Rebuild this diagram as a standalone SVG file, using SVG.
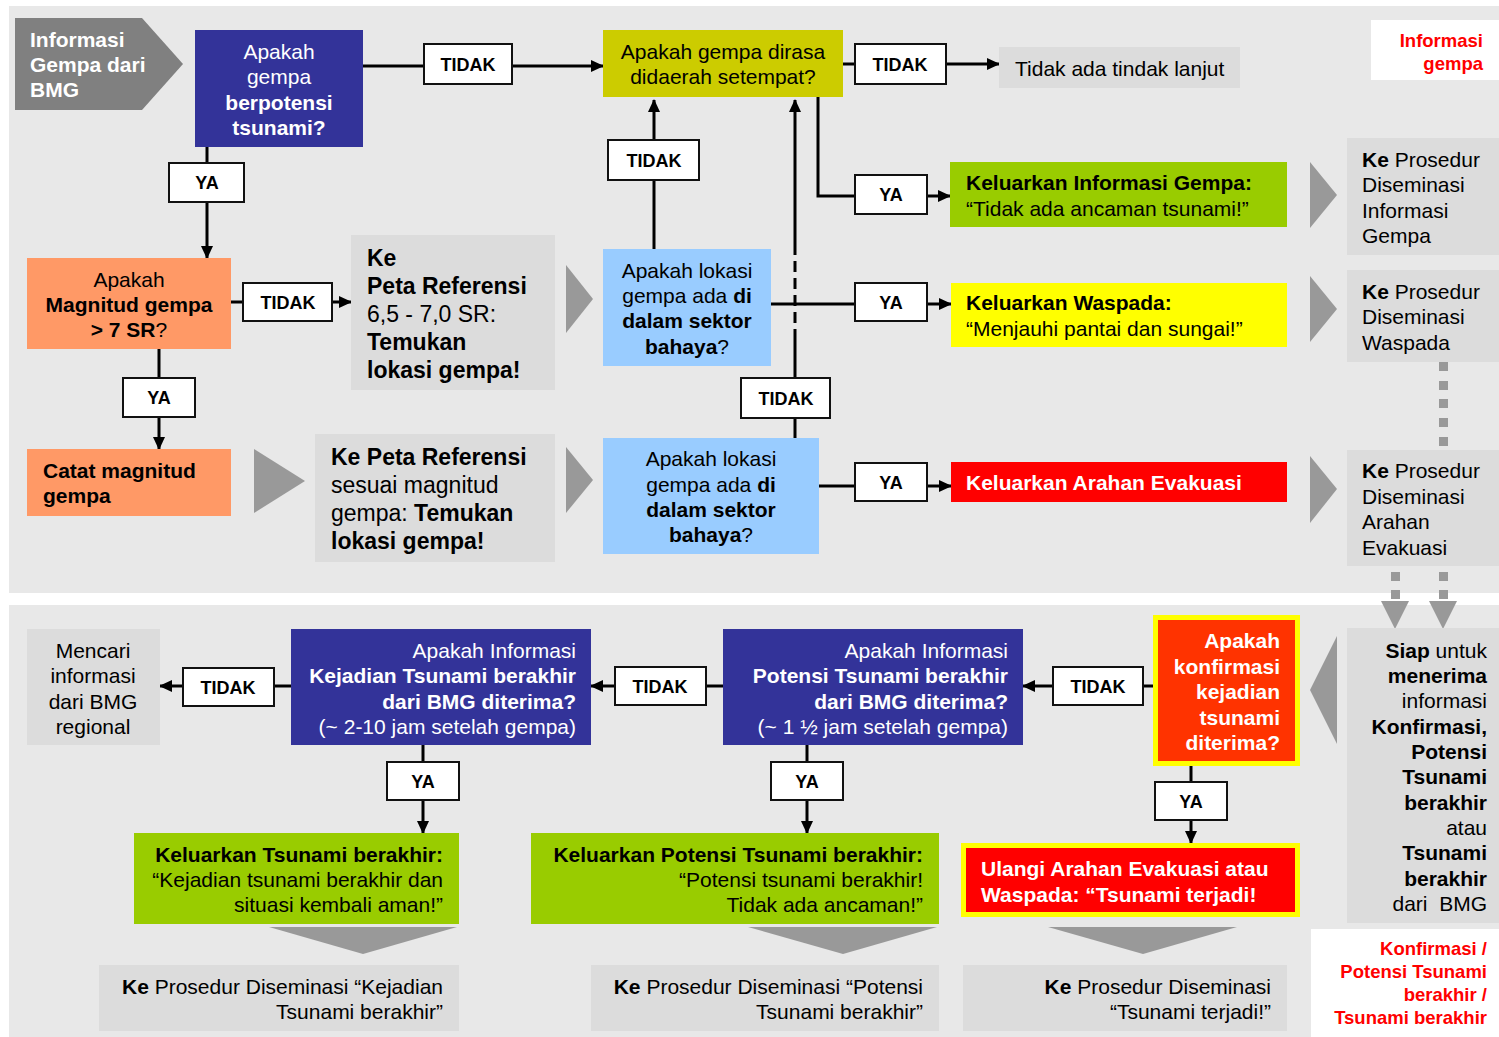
<svg xmlns="http://www.w3.org/2000/svg" width="1499" height="1037" viewBox="0 0 1499 1037">
<defs>
<style>
text{font-family:"Liberation Sans",Arial,sans-serif;font-size:21px;fill:#000}
.b{font-weight:bold}
.w{fill:#fff}
.r{fill:#ff0000;font-weight:bold;font-size:18.5px}
.m{text-anchor:middle}
.e{text-anchor:end}
.big{font-size:23px}
.lbl rect{fill:#fff;stroke:#111;stroke-width:2}
.lbl text{font-size:18px;font-weight:bold;text-anchor:middle}
.gbox{fill:#dcdcdc}
.tri{fill:#999}
.sq{fill:#999}
#connectors line,#connectors polyline{stroke:#000;stroke-width:3;fill:none}
</style>
<marker id="ah" markerUnits="userSpaceOnUse" markerWidth="13" markerHeight="12" viewBox="0 0 13 12" refX="12" refY="6" orient="auto">
<path d="M0,0 L13,6 L0,12 z" fill="#000"/>
</marker>
</defs>
<rect width="1499" height="1037" fill="#fff"/>
<rect x="9" y="6" width="1490" height="587" fill="#e8e8e8"/>
<rect x="9" y="605" width="1490" height="432" fill="#e8e8e8"/>

<g id="decor">
<polygon class="tri" points="566,265 593,299 566,333"/>
<polygon class="tri" points="254,449 305,481 254,513"/>
<polygon class="tri" points="566,447 593,480 566,513"/>
<polygon class="tri" points="1310,162 1337,195 1310,228"/>
<polygon class="tri" points="1310,276 1337,309 1310,342"/>
<polygon class="tri" points="1310,456 1337,489 1310,523"/>
<polygon class="tri" points="1337,636 1310,690 1337,744"/>
<polygon class="tri" points="269,927 457,927 363,954"/>
<polygon class="tri" points="748,927 937,927 843,954"/>
<polygon class="tri" points="1048,927 1237,927 1143,954"/>
<rect class="sq" x="1439" y="362" width="9" height="9"/>
<rect class="sq" x="1439" y="381" width="9" height="9"/>
<rect class="sq" x="1439" y="399" width="9" height="9"/>
<rect class="sq" x="1439" y="418" width="9" height="9"/>
<rect class="sq" x="1439" y="437" width="9" height="9"/>
<rect class="sq" x="1391" y="572" width="9" height="9"/>
<rect class="sq" x="1391" y="590" width="9" height="9"/>
<rect class="sq" x="1439" y="572" width="9" height="9"/>
<rect class="sq" x="1439" y="590" width="9" height="9"/>
<polygon class="tri" points="1381,601 1409,601 1395,629"/>
<polygon class="tri" points="1429,601 1457,601 1443,629"/>
</g>

<g id="connectors">
<line x1="363" y1="66" x2="424" y2="66"/>
<line x1="512" y1="66" x2="603" y2="66" marker-end="url(#ah)"/>
<line x1="843" y1="64" x2="855" y2="64"/>
<line x1="946" y1="64" x2="999" y2="64" marker-end="url(#ah)"/>
<line x1="207" y1="147" x2="207" y2="163"/>
<line x1="207" y1="202" x2="207" y2="258" marker-end="url(#ah)"/>
<line x1="231" y1="302" x2="243" y2="302"/>
<line x1="332" y1="302" x2="351" y2="302" marker-end="url(#ah)"/>
<line x1="159" y1="349" x2="159" y2="378"/>
<line x1="159" y1="417" x2="159" y2="449" marker-end="url(#ah)"/>
<line x1="654" y1="249" x2="654" y2="180"/>
<line x1="654" y1="140" x2="654" y2="100" marker-end="url(#ah)"/>
<polyline points="818,97 818,196 855,196"/>
<line x1="927" y1="196" x2="950" y2="196" marker-end="url(#ah)"/>
<line x1="771" y1="304" x2="855" y2="304"/>
<line x1="927" y1="304" x2="951" y2="304" marker-end="url(#ah)"/>
<line x1="795" y1="438" x2="795" y2="418"/>
<line x1="795" y1="378" x2="795" y2="340"/>
<line x1="795" y1="340" x2="795" y2="247" stroke-dasharray="11,6"/>
<line x1="795" y1="247" x2="795" y2="100" marker-end="url(#ah)"/>
<line x1="819" y1="486" x2="855" y2="486"/>
<line x1="927" y1="486" x2="951" y2="486" marker-end="url(#ah)"/>
<line x1="1153" y1="686" x2="1143" y2="686"/>
<line x1="1053" y1="686" x2="1023" y2="686" marker-end="url(#ah)"/>
<line x1="723" y1="686" x2="706" y2="686"/>
<line x1="615" y1="686" x2="591" y2="686" marker-end="url(#ah)"/>
<line x1="291" y1="686" x2="274" y2="686"/>
<line x1="183" y1="686" x2="160" y2="686" marker-end="url(#ah)"/>
<line x1="423" y1="745" x2="423" y2="762"/>
<line x1="423" y1="800" x2="423" y2="833" marker-end="url(#ah)"/>
<line x1="807" y1="745" x2="807" y2="762"/>
<line x1="807" y1="800" x2="807" y2="833" marker-end="url(#ah)"/>
<line x1="1191" y1="766" x2="1191" y2="782"/>
<line x1="1191" y1="820" x2="1191" y2="843" marker-end="url(#ah)"/>
</g>

<g id="n-info-bmg">
<polygon points="15,18 142,18 183,64 142,110 15,110" fill="#808080"/>
<text class="b w" x="30" y="47">Informasi</text>
<text class="b w" x="30" y="72">Gempa dari</text>
<text class="b w" x="30" y="97">BMG</text>
</g>
<g id="n-potensi">
<rect x="195" y="30" width="168" height="117" fill="#333399"/>
<text class="w m" x="279" y="59">Apakah</text>
<text class="w m" x="279" y="84">gempa</text>
<text class="w m b" x="279" y="110">berpotensi</text>
<text class="w m b" x="279" y="135">tsunami?</text>
</g>
<g id="n-dirasa">
<rect x="603" y="30" width="240" height="67" fill="#cccc00"/>
<text class="m" x="723" y="59">Apakah gempa dirasa</text>
<text class="m" x="723" y="84">didaerah setempat?</text>
</g>
<g id="n-tidak-ada">
<rect class="gbox" x="999" y="47" width="241" height="41"/>
<text x="1015" y="76">Tidak ada tindak lanjut</text>
</g>
<g id="n-legend1">
<rect x="1371" y="20" width="128" height="60" fill="#fff"/>
<text class="r e" x="1483" y="47">Informasi</text>
<text class="r e" x="1483" y="70">gempa</text>
</g>
<g id="n-magnitud">
<rect x="27" y="258" width="204" height="91" fill="#ff9966"/>
<text class="m" x="129" y="287">Apakah</text>
<text class="m b" x="129" y="312">Magnitud gempa</text>
<text class="m" x="129" y="337"><tspan class="b">&gt; 7 SR</tspan>?</text>
</g>
<g id="n-peta1">
<rect class="gbox" x="351" y="235" width="204" height="155"/>
<text class="big b" x="367" y="266">Ke</text>
<text class="big b" x="367" y="294">Peta Referensi</text>
<text class="big" x="367" y="322">6,5 - 7,0 SR:</text>
<text class="big b" x="367" y="350">Temukan</text>
<text class="big b" x="367" y="378">lokasi gempa!</text>
</g>
<g id="n-catat">
<rect x="27" y="449" width="204" height="67" fill="#ff9966"/>
<text class="b" x="43" y="478">Catat magnitud</text>
<text class="b" x="43" y="503">gempa</text>
</g>
<g id="n-peta2">
<rect class="gbox" x="315" y="434" width="240" height="128"/>
<text class="big b" x="331" y="465">Ke Peta Referensi</text>
<text class="big" x="331" y="493">sesuai magnitud</text>
<text class="big" x="331" y="521">gempa: <tspan class="b">Temukan</tspan></text>
<text class="big b" x="331" y="549">lokasi gempa!</text>
</g>
<g id="n-lokasi1">
<rect x="603" y="249" width="168" height="117" fill="#99ccff"/>
<text class="m" x="687" y="278">Apakah lokasi</text>
<text class="m" x="687" y="303">gempa ada <tspan class="b">di</tspan></text>
<text class="m b" x="687" y="328">dalam sektor</text>
<text class="m" x="687" y="354"><tspan class="b">bahaya</tspan>?</text>
</g>
<g id="n-lokasi2">
<rect x="603" y="438" width="216" height="116" fill="#99ccff"/>
<text class="m" x="711" y="466">Apakah lokasi</text>
<text class="m" x="711" y="492">gempa ada <tspan class="b">di</tspan></text>
<text class="m b" x="711" y="517">dalam sektor</text>
<text class="m" x="711" y="542"><tspan class="b">bahaya</tspan>?</text>
</g>
<g id="n-info-gempa">
<rect x="950" y="162" width="337" height="65" fill="#99cc00"/>
<text class="b" x="966" y="190">Keluarkan Informasi Gempa:</text>
<text x="966" y="216">“Tidak ada ancaman tsunami!”</text>
</g>
<g id="n-waspada">
<rect x="951" y="283" width="336" height="64" fill="#ffff00"/>
<text class="b" x="966" y="310">Keluarkan Waspada:</text>
<text x="966" y="336">“Menjauhi pantai dan sungai!”</text>
</g>
<g id="n-evakuasi">
<rect x="951" y="462" width="336" height="40" fill="#ff0000"/>
<text class="b w" x="966" y="490">Keluarkan Arahan Evakuasi</text>
</g>
<g id="n-pros-info">
<rect class="gbox" x="1347" y="138" width="152" height="117"/>
<text x="1362" y="167"><tspan class="b">Ke</tspan> Prosedur</text>
<text x="1362" y="192">Diseminasi</text>
<text x="1362" y="218">Informasi</text>
<text x="1362" y="243">Gempa</text>
</g>
<g id="n-pros-waspada">
<rect class="gbox" x="1347" y="270" width="152" height="92"/>
<text x="1362" y="299"><tspan class="b">Ke</tspan> Prosedur</text>
<text x="1362" y="324">Diseminasi</text>
<text x="1362" y="350">Waspada</text>
</g>
<g id="n-pros-evakuasi">
<rect class="gbox" x="1347" y="450" width="152" height="116"/>
<text x="1362" y="478"><tspan class="b">Ke</tspan> Prosedur</text>
<text x="1362" y="504">Diseminasi</text>
<text x="1362" y="529">Arahan</text>
<text x="1362" y="555">Evakuasi</text>
</g>

<g id="n-siap">
<rect class="gbox" x="1347" y="628" width="152" height="295"/>
<text class="e" x="1487" y="658"><tspan class="b">Siap</tspan> untuk</text>
<text class="e b" x="1487" y="683">menerima</text>
<text class="e" x="1487" y="708">informasi</text>
<text class="e b" x="1487" y="734">Konfirmasi,</text>
<text class="e b" x="1487" y="759">Potensi</text>
<text class="e b" x="1487" y="784">Tsunami</text>
<text class="e b" x="1487" y="810">berakhir</text>
<text class="e" x="1487" y="835">atau</text>
<text class="e b" x="1487" y="860">Tsunami</text>
<text class="e b" x="1487" y="886">berakhir</text>
<text class="e" x="1487" y="911" xml:space="preserve">dari  BMG</text>
</g>
<g id="n-konfirmasi">
<rect x="1155.5" y="617.5" width="142" height="146" fill="#ff3300" stroke="#ffff00" stroke-width="5"/>
<text class="e b w" x="1280" y="648">Apakah</text>
<text class="e b w" x="1280" y="674">konfirmasi</text>
<text class="e b w" x="1280" y="699">kejadian</text>
<text class="e b w" x="1280" y="725">tsunami</text>
<text class="e b w" x="1280" y="750">diterima?</text>
</g>
<g id="n-potensi-berakhir">
<rect x="723" y="629" width="300" height="116" fill="#333399"/>
<text class="e w" x="1008" y="658">Apakah Informasi</text>
<text class="e w b" x="1008" y="683">Potensi Tsunami berakhir</text>
<text class="e w b" x="1008" y="709">dari BMG diterima?</text>
<text class="e w" x="1008" y="734">(~ 1 ½ jam setelah gempa)</text>
</g>
<g id="n-kejadian-berakhir">
<rect x="291" y="629" width="300" height="116" fill="#333399"/>
<text class="e w" x="576" y="658">Apakah Informasi</text>
<text class="e w b" x="576" y="683">Kejadian Tsunami berakhir</text>
<text class="e w b" x="576" y="709">dari BMG diterima?</text>
<text class="e w" x="576" y="734">(~ 2-10 jam setelah gempa)</text>
</g>
<g id="n-mencari">
<rect class="gbox" x="27" y="629" width="133" height="116"/>
<text class="m" x="93" y="658">Mencari</text>
<text class="m" x="93" y="683">informasi</text>
<text class="m" x="93" y="709">dari BMG</text>
<text class="m" x="93" y="734">regional</text>
</g>
<g id="n-out-kejadian">
<rect x="134" y="833" width="325" height="91" fill="#99cc00"/>
<text class="e b" x="443" y="862">Keluarkan Tsunami berakhir:</text>
<text class="e" x="443" y="887">“Kejadian tsunami berakhir dan</text>
<text class="e" x="443" y="912">situasi kembali aman!”</text>
</g>
<g id="n-out-potensi">
<rect x="531" y="833" width="408" height="91" fill="#99cc00"/>
<text class="e b" x="923" y="862">Keluarkan Potensi Tsunami berakhir:</text>
<text class="e" x="923" y="887">“Potensi tsunami berakhir!</text>
<text class="e" x="923" y="912">Tidak ada ancaman!”</text>
</g>
<g id="n-ulangi">
<rect x="963.5" y="845.5" width="334" height="69" fill="#ff0000" stroke="#ffff00" stroke-width="5"/>
<text class="b w" x="981" y="876">Ulangi Arahan Evakuasi atau</text>
<text class="b w" x="981" y="902">Waspada: “Tsunami terjadi!</text>
</g>
<g id="n-pros-kejadian">
<rect class="gbox" x="99" y="965" width="360" height="66"/>
<text class="e" x="443" y="994"><tspan class="b">Ke</tspan> Prosedur Diseminasi “Kejadian</text>
<text class="e" x="443" y="1019">Tsunami berakhir”</text>
</g>
<g id="n-pros-potensi">
<rect class="gbox" x="591" y="965" width="348" height="66"/>
<text class="e" x="923" y="994"><tspan class="b">Ke</tspan> Prosedur Diseminasi “Potensi</text>
<text class="e" x="923" y="1019">Tsunami berakhir”</text>
</g>
<g id="n-pros-terjadi">
<rect class="gbox" x="963" y="965" width="324" height="66"/>
<text class="e" x="1271" y="994"><tspan class="b">Ke</tspan> Prosedur Diseminasi</text>
<text class="e" x="1271" y="1019">“Tsunami terjadi!”</text>
</g>
<g id="n-legend2">
<rect x="1311" y="929" width="188" height="108" fill="#fff"/>
<text class="r e" x="1487" y="955">Konfirmasi /</text>
<text class="r e" x="1487" y="978">Potensi Tsunami</text>
<text class="r e" x="1487" y="1001">berakhir /</text>
<text class="r e" x="1487" y="1024">Tsunami berakhir</text>
</g>

<g id="labels">
<g class="lbl" id="l1"><rect x="424" y="44" width="88" height="40"/><text x="468" y="71">TIDAK</text></g>
<g class="lbl" id="l2"><rect x="855" y="44" width="91" height="40"/><text x="900" y="71">TIDAK</text></g>
<g class="lbl" id="l3"><rect x="169" y="163" width="75" height="39"/><text x="207" y="189">YA</text></g>
<g class="lbl" id="l4"><rect x="608" y="140" width="91" height="40"/><text x="654" y="167">TIDAK</text></g>
<g class="lbl" id="l5"><rect x="855" y="175" width="72" height="39"/><text x="891" y="201">YA</text></g>
<g class="lbl" id="l6"><rect x="243" y="283" width="89" height="38"/><text x="288" y="309">TIDAK</text></g>
<g class="lbl" id="l7"><rect x="855" y="283" width="72" height="38"/><text x="891" y="309">YA</text></g>
<g class="lbl" id="l8"><rect x="123" y="378" width="72" height="39"/><text x="159" y="404">YA</text></g>
<g class="lbl" id="l9"><rect x="741" y="378" width="89" height="40"/><text x="786" y="405">TIDAK</text></g>
<g class="lbl" id="l10"><rect x="855" y="463" width="72" height="38"/><text x="891" y="489">YA</text></g>
<g class="lbl" id="l11"><rect x="1053" y="667" width="90" height="38"/><text x="1098" y="693">TIDAK</text></g>
<g class="lbl" id="l12"><rect x="615" y="667" width="91" height="38"/><text x="660" y="693">TIDAK</text></g>
<g class="lbl" id="l13"><rect x="183" y="668" width="91" height="38"/><text x="228" y="694">TIDAK</text></g>
<g class="lbl" id="l14"><rect x="387" y="762" width="72" height="38"/><text x="423" y="788">YA</text></g>
<g class="lbl" id="l15"><rect x="771" y="762" width="72" height="38"/><text x="807" y="788">YA</text></g>
<g class="lbl" id="l16"><rect x="1155" y="782" width="72" height="38"/><text x="1191" y="808">YA</text></g>
</g>
</svg>
